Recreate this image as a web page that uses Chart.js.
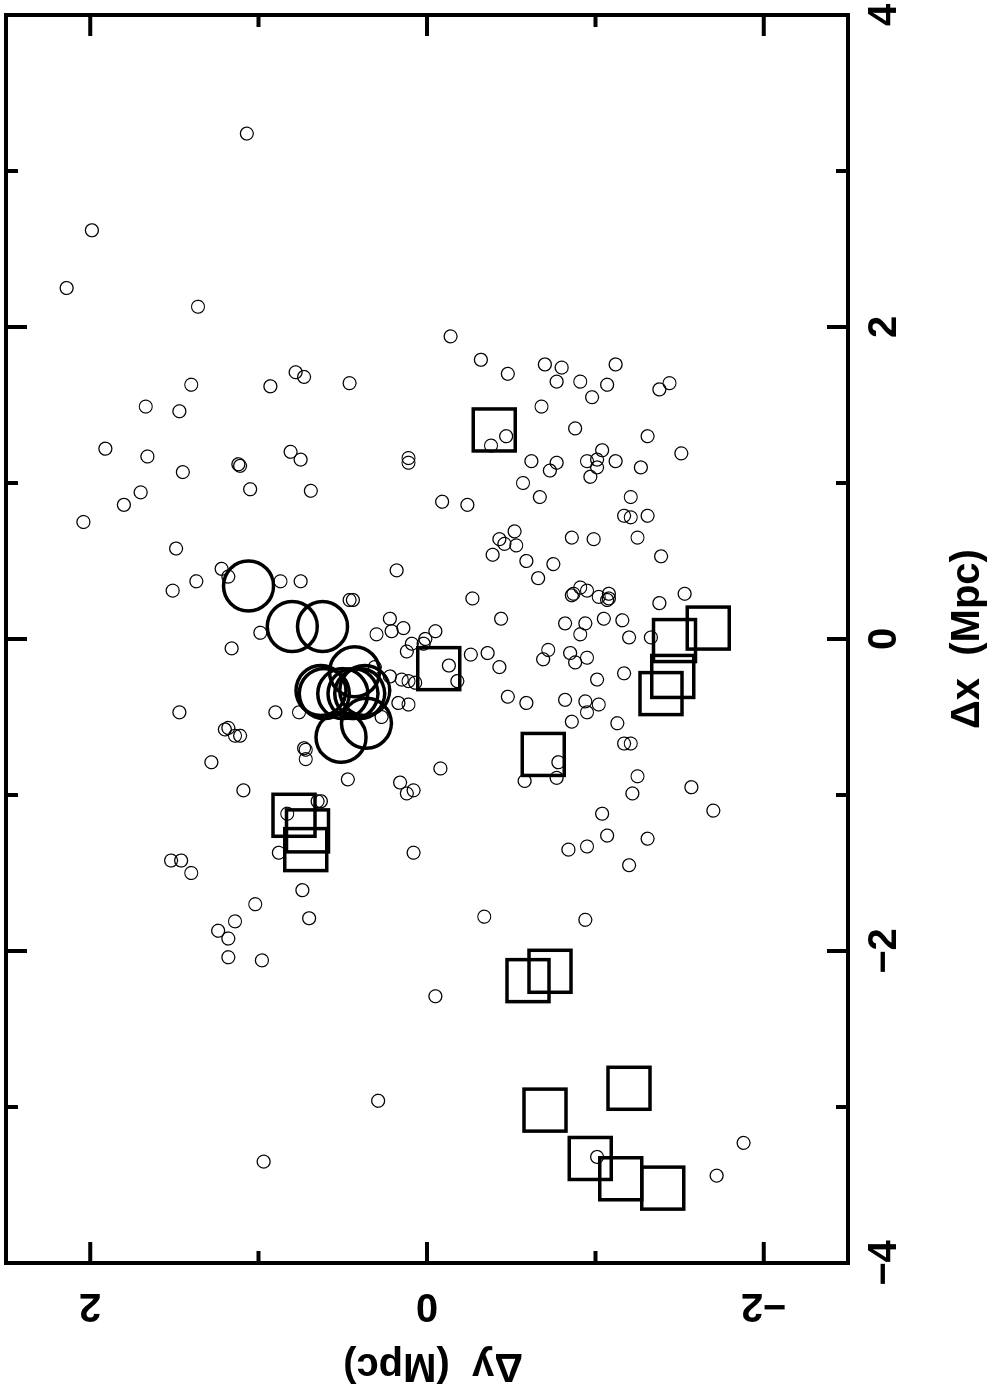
<!DOCTYPE html>
<html>
<head>
<meta charset="utf-8">
<title>Δx / Δy (Mpc)</title>
<script src="https://cdn.jsdelivr.net/npm/chart.js@4.4.0/dist/chart.umd.min.js"></script>
<style>
  html, body { margin: 0; padding: 0; background: #fff; width: 994px; height: 1390px; overflow: hidden; }
  #wrap { position: relative; width: 994px; height: 1390px; }
  /* the plot is drawn landscape, then turned a quarter turn like the printed page */
  #plot { position: absolute; left: -198px; top: 198px; width: 1390px; height: 994px;
          transform: rotate(-90deg); transform-origin: 50% 50%; }
</style>
</head>
<body>
<div id="wrap"><canvas id="plot" width="1390" height="994"></canvas></div>
<script>
/* =========================================================
   DATA — offsets in Mpc (x = Δx, y = Δy)
   ========================================================= */
const galDx = [
  3.24, 2.62, 2.25, 2.13, 1.71, 1.68, 1.64, 1.63, 1.62, 1.49,
  1.46, 1.22, 1.17, 1.20, 1.15, 1.12, 1.11, 1.07, 0.96, 0.95,
  0.94, 0.86, 0.75, 1.94, 1.79, 1.16, 1.13, 0.88, 0.86, 0.58,
  0.45, 0.40, 0.37, 0.37, 0.37, 0.44, 0.31, 0.25, 0.25, 0.26,
  0.04, -0.06, 0.13, 0.03, 0.05, 0.07, 0.05, -0.03, 0.00, -0.03,
  -0.08, -0.10, -0.17, -0.27, -0.18, -0.24, -0.26, -0.27, -0.28, -0.41,
  -0.42, -0.50, -0.47, -0.47, -0.47, -0.58, -0.57, -0.62, -0.62, -0.70,
  -0.71, -0.77, -0.79, -0.83, -0.90, -0.97, -0.92, -0.97, -0.99, -1.04,
  -1.04, -1.12, -1.37, -1.37, -1.42, -1.42, -1.50, -1.61, -1.70, -1.79,
  -1.81, -1.87, -1.92, -2.04, -2.06, -1.78, -1.80, -2.29, -2.96, -3.35,
  -3.32, -3.23, -3.44, 1.70, 1.76, 1.74, 1.65, 1.65, 1.63, 1.76,
  1.55, 1.60, 1.64, 1.49, 1.35, 1.30, 1.19, 1.30, 1.24, 1.14,
  1.13, 1.08, 1.14, 1.15, 1.21, 1.10, 1.04, 1.14, 1.10, 1.00,
  0.91, 0.91, 0.79, 0.78, 0.79, 0.65, 0.69, 0.64, 0.61, 0.60,
  0.54, 0.50, 0.48, 0.65, 0.64, 0.53, 0.39, 0.13, 0.28, 0.29,
  0.33, 0.31, 0.27, 0.29, 0.25, 0.26, 0.23, 0.29, 0.10, 0.10,
  0.13, 0.12, 0.03, 0.01, 0.01, -0.09, -0.18, -0.13, -0.07, -0.09,
  -0.15, -0.12, -0.26, -0.22, -0.37, -0.41, -0.39, -0.40, -0.42, -0.47,
  -0.53, -0.54, -0.67, -0.67, -0.79, -0.91, -0.89, -0.88, -0.99, -0.95,
  -1.10, -1.12, -1.26, -1.33, -1.35, -1.28, -1.45
];
const galDy = [
  1.07, 1.99, 2.14, 1.36, 0.78, 0.73, 0.46, 1.40, 0.93, 1.67,
  1.47, 1.91, 1.66, 0.81, 0.75, 1.12, 1.11, 1.45, 1.05, 0.69,
  1.70, 1.80, 2.04, -0.14, -0.32, 0.11, 0.11, -0.09, -0.24, 1.49,
  1.22, 1.18, 1.37, 0.87, 0.75, 0.18, 1.51, 0.46, 0.44, -0.27,
  0.99, 1.16, 0.22, 0.30, 0.21, 0.14, -0.05, 0.09, 0.01, 0.02,
  0.12, -0.26, -0.13, -0.18, 0.31, 0.22, 0.15, 0.11, 0.07, 0.17,
  0.11, 0.27, 0.90, 0.76, 1.47, 1.20, 1.18, 1.14, 1.11, 0.73,
  0.72, 0.72, 1.28, -0.08, 0.47, 1.09, 0.16, 0.08, 0.12, 0.65,
  0.63, 0.83, 0.88, 0.08, 1.52, 1.46, 1.40, 0.74, 1.02, 0.70,
  1.14, 1.24, 1.18, 1.18, 0.98, -0.34, -0.94, -0.05, 0.29, 0.97,
  -1.01, -1.88, -1.72, -0.48, -0.70, -0.80, -0.77, -0.91, -1.07, -1.12,
  -0.98, -1.38, -1.44, -0.68, -0.88, -1.31, -1.51, -0.47, -0.38, -0.62,
  -0.77, -0.73, -0.95, -1.01, -1.04, -1.01, -0.97, -1.12, -1.27, -0.57,
  -0.67, -1.21, -1.17, -1.21, -1.31, -1.25, -0.52, -0.43, -0.46, -0.53,
  -0.39, -0.59, -0.75, -0.86, -0.99, -1.39, -0.66, -0.44, -0.86, -0.87,
  -0.91, -0.95, -1.02, -1.08, -1.07, -1.08, -1.38, -1.53, -0.82, -0.94,
  -1.05, -1.16, -0.91, -1.20, -1.33, -0.36, -0.43, -0.69, -0.72, -0.85,
  -0.88, -0.95, -1.01, -1.17, -0.48, -0.59, -0.82, -0.94, -1.02, -0.95,
  -0.86, -1.13, -1.17, -1.21, -0.78, -0.58, -0.77, -1.25, -1.22, -1.57,
  -1.70, -1.04, -1.07, -0.95, -0.84, -1.31, -1.20
];

const sqDx = [1.34, -0.19, -0.74, -1.13, -1.23, -1.35, 0.07, -0.01, -0.24, -0.35,
              -2.19, -2.13, -3.02, -2.88, -3.33, -3.46, -3.52];
const sqDy = [-0.40, -0.07, -0.69, 0.79, 0.71, 0.72, -1.67, -1.47, -1.46, -1.39,
              -0.60, -0.73, -0.70, -1.20, -0.97, -1.15, -1.40];

const bigDx = [0.34, 0.08, 0.08, -0.33, -0.35, -0.35, -0.21, -0.35, -0.35, -0.33, -0.63, -0.54];
const bigDy = [1.06, 0.80, 0.62, 0.63, 0.61, 0.50, 0.43, 0.44, 0.40, 0.37, 0.51, 0.36];

const xMajor = [-4, -2, 0, 2, 4];
const xMinor = [-3, -1, 1, 3];
const xLabels = ['−4', '−2', '0', '2', '4'];
const yMajor = [-2, 0, 2];
const yMinor = [-1, 1];
const yLabels = ['−2', '0', '2'];

const zip = (xs, ys) => xs.map((v, i) => ({ x: v, y: ys[i] }));

/* ===== FRAME, INWARD TICKS AND LABELS ===== */
const font = (px) => `bold ${px}px "Liberation Sans", Arial, sans-serif`;

const framePlugin = {
  id: 'frame',
  afterDraw(chart) {
    const { ctx, chartArea: a, scales: { x, y } } = chart;
    ctx.save();
    ctx.strokeStyle = '#000';
    ctx.fillStyle = '#000';
    ctx.lineWidth = 4;
    ctx.lineJoin = 'miter';
    ctx.strokeRect(a.left, a.top, a.right - a.left, a.bottom - a.top);

    const xTicks = (vals, len) => vals.forEach(v => {
      const p = x.getPixelForValue(v);
      ctx.beginPath();
      ctx.moveTo(p, a.bottom); ctx.lineTo(p, a.bottom - len);
      ctx.moveTo(p, a.top); ctx.lineTo(p, a.top + len);
      ctx.stroke();
    });
    const yTicks = (vals, len) => vals.forEach(v => {
      const p = y.getPixelForValue(v);
      ctx.beginPath();
      ctx.moveTo(a.left, p); ctx.lineTo(a.left + len, p);
      ctx.moveTo(a.right, p); ctx.lineTo(a.right - len, p);
      ctx.stroke();
    });
    xTicks(xMajor, 21); xTicks(xMinor, 12);
    yTicks(yMajor, 21); yTicks(yMinor, 12);

    ctx.textAlign = 'center';
    ctx.textBaseline = 'middle';
    ctx.font = font(40);
    xMajor.forEach((v, i) => ctx.fillText(xLabels[i], x.getPixelForValue(v), a.bottom + 37));
    yMajor.forEach((v, i) => {
      ctx.save();
      ctx.translate(a.left - 42, y.getPixelForValue(v));
      ctx.rotate(-Math.PI / 2);
      ctx.fillText(yLabels[i], 0, 0);
      ctx.restore();
    });

    ctx.font = font(40);
    ctx.fillText('Δx  (Mpc)', (a.left + a.right) / 2, a.bottom + 120);
    ctx.save();
    ctx.translate(a.left - 102, (a.top + a.bottom) / 2 + 6);
    ctx.rotate(-Math.PI / 2);
    ctx.fillText('Δy  (Mpc)', 0, 0);
    ctx.restore();
    ctx.restore();
  }
};

/* ===== CHART ===== */
new Chart(document.getElementById('plot'), {
  type: 'scatter',
  data: {
    datasets: [
      { label: 'galaxies', data: zip(galDx, galDy), pointStyle: 'circle',
        pointRadius: 6.5, borderWidth: 1.2, borderColor: '#000', backgroundColor: 'rgba(0,0,0,0)' },
      { label: 'squares', data: zip(sqDx, sqDy), pointStyle: 'rect',
        pointRadius: 29.7, borderWidth: 3.5, borderColor: '#000', backgroundColor: 'rgba(0,0,0,0)' },
      { label: 'big circles', data: zip(bigDx, bigDy), pointStyle: 'circle',
        pointRadius: 25, borderWidth: 3.5, borderColor: '#000', backgroundColor: 'rgba(0,0,0,0)' }
    ]
  },
  options: {
    responsive: false, animation: false, devicePixelRatio: 1, events: [],
    layout: { autoPadding: false, padding: { left: 0, right: 15, top: 6, bottom: 0 } },
    plugins: { legend: { display: false }, tooltip: { enabled: false } },
    scales: {
      x: { type: 'linear', min: -4, max: 4,
           grid: { display: false }, border: { display: false }, ticks: { display: false },
           afterFit: (s) => { s.height = 146; } },
      y: { type: 'linear', min: -2.5, max: 2.5,
           grid: { display: false }, border: { display: false }, ticks: { display: false },
           afterFit: (s) => { s.width = 127; } }
    }
  },
  plugins: [framePlugin]
});
</script>
</body>
</html>
